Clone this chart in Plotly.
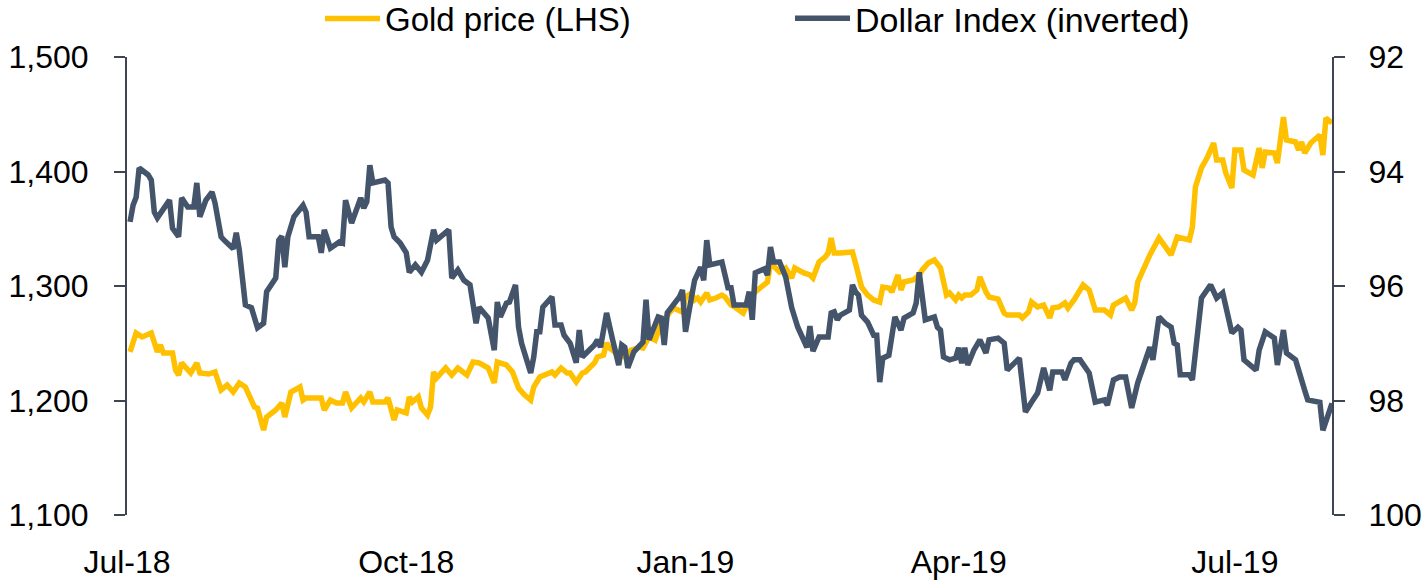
import plotly.graph_objects as go

# ---------------- data ----------------
gold_dates = [
    "2018-07-02","2018-07-03","2018-07-04","2018-07-06","2018-07-09","2018-07-11","2018-07-12","2018-07-13",
    "2018-07-16","2018-07-17","2018-07-18","2018-07-19","2018-07-22","2018-07-24","2018-07-25","2018-07-28",
    "2018-07-30","2018-08-01","2018-08-03","2018-08-05","2018-08-07","2018-08-09","2018-08-12","2018-08-13",
    "2018-08-15","2018-08-16","2018-08-19","2018-08-21","2018-08-22","2018-08-24","2018-08-27","2018-08-28",
    "2018-08-29","2018-09-03","2018-09-04","2018-09-06","2018-09-08","2018-09-10","2018-09-11","2018-09-13",
    "2018-09-16","2018-09-17","2018-09-19","2018-09-20","2018-09-24","2018-09-25","2018-09-27","2018-09-28",
    "2018-10-01","2018-10-02","2018-10-03","2018-10-05","2018-10-06","2018-10-08","2018-10-09","2018-10-10",
    "2018-10-11","2018-10-14","2018-10-16","2018-10-18","2018-10-21","2018-10-23","2018-10-25","2018-10-28",
    "2018-10-30","2018-10-31","2018-11-03","2018-11-05","2018-11-07","2018-11-09","2018-11-11","2018-11-12",
    "2018-11-14","2018-11-18","2018-11-19","2018-11-21","2018-11-23","2018-11-24","2018-11-26","2018-11-28",
    "2018-11-29","2018-12-02","2018-12-03","2018-12-05","2018-12-06","2018-12-07","2018-12-09","2018-12-12",
    "2018-12-14","2018-12-17","2018-12-18","2018-12-20","2018-12-22","2018-12-24","2018-12-27","2018-12-28",
    "2018-12-31","2019-01-01","2019-01-03","2019-01-04","2019-01-05","2019-01-06","2019-01-08","2019-01-09",
    "2019-01-11","2019-01-13","2019-01-14","2019-01-16","2019-01-17","2019-01-18","2019-01-20","2019-01-22",
    "2019-01-24","2019-01-28","2019-01-29","2019-02-01","2019-02-03","2019-02-05","2019-02-06","2019-02-09",
    "2019-02-11","2019-02-12","2019-02-14","2019-02-16","2019-02-17","2019-02-18","2019-02-19","2019-02-21",
    "2019-02-25","2019-02-26","2019-02-28","2019-03-02","2019-03-04","2019-03-06","2019-03-07","2019-03-09",
    "2019-03-10","2019-03-12","2019-03-13","2019-03-14","2019-03-17","2019-03-19","2019-03-20","2019-03-22",
    "2019-03-24","2019-03-26","2019-03-27","2019-03-28","2019-03-29","2019-03-31","2019-04-01","2019-04-02",
    "2019-04-03","2019-04-05","2019-04-07","2019-04-08","2019-04-10","2019-04-11","2019-04-14","2019-04-16",
    "2019-04-17","2019-04-21","2019-04-22","2019-04-24","2019-04-25","2019-04-27","2019-04-29","2019-05-01",
    "2019-05-02","2019-05-04","2019-05-06","2019-05-07","2019-05-09","2019-05-12","2019-05-14","2019-05-15",
    "2019-05-16","2019-05-19","2019-05-21","2019-05-22","2019-05-26","2019-05-28","2019-05-29","2019-05-30",
    "2019-06-01","2019-06-03","2019-06-06","2019-06-10","2019-06-12","2019-06-16","2019-06-17","2019-06-18",
    "2019-06-20","2019-06-22","2019-06-24","2019-06-25","2019-06-27","2019-06-28","2019-06-30","2019-07-01",
    "2019-07-03","2019-07-04","2019-07-07","2019-07-09","2019-07-10","2019-07-11","2019-07-14","2019-07-15",
    "2019-07-17","2019-07-18","2019-07-21","2019-07-22","2019-07-23","2019-07-24","2019-07-26","2019-07-29",
    "2019-07-30","2019-07-31","2019-08-02",
]
gold_price = [
    1242.4,1252.8,1259.0,1255.5,1259.0,1242.4,1248.5,1241.5,
    1241.5,1226.6,1222.3,1232.8,1224.0,1232.8,1224.0,1223.1,
    1224.9,1209.2,1213.5,1207.4,1215.3,1211.8,1194.3,1193.4,
    1174.2,1185.6,1191.7,1197.8,1185.6,1207.4,1211.8,1200.4,
    1202.2,1202.2,1191.7,1200.4,1197.8,1197.8,1207.4,1193.5,
    1202.2,1198.7,1207.4,1198.7,1198.7,1202.2,1183.0,1191.7,
    1189.1,1203.1,1198.7,1203.1,1193.5,1187.3,1194.3,1224.9,
    1219.7,1228.4,1222.3,1228.4,1222.3,1233.6,1232.8,1228.4,
    1215.3,1233.6,1231.0,1224.9,1210.9,1204.8,1200.4,1211.8,
    1220.5,1224.9,1222.3,1228.4,1224.0,1224.0,1216.2,1224.0,
    1224.9,1232.8,1238.0,1239.7,1250.2,1245.9,1241.5,1238.0,
    1244.1,1246.7,1245.9,1255.5,1252.8,1267.7,1279.0,1280.8,
    1277.3,1290.4,1293.9,1287.8,1289.5,1286.0,1293.9,1287.8,
    1289.5,1292.1,1290.4,1283.4,1282.0,1280.0,1276.4,1287.8,
    1294.8,1303.5,1320.1,1312.2,1315.7,1307.0,1315.7,1311.4,
    1309.6,1307.0,1321.0,1325.3,1328.8,1341.9,1328.8,1328.8,
    1329.7,1320.1,1299.1,1292.1,1287.8,1286.0,1299.1,1298.3,
    1294.8,1309.6,1296.5,1303.5,1305.2,1309.6,1314.0,1320.1,
    1322.7,1316.0,1305.0,1292.1,1293.9,1287.8,1292.1,1289.5,
    1292.1,1292.1,1296.5,1307.9,1294.8,1290.4,1288.6,1276.4,
    1274.7,1274.7,1272.1,1277.3,1286.0,1281.7,1283.4,1272.1,
    1280.8,1281.7,1285.2,1280.8,1287.8,1300.9,1296.5,1286.0,
    1279.0,1279.0,1274.7,1283.4,1289.5,1279.0,1285.2,1303.5,
    1315.7,1327.1,1341.9,1327.1,1342.8,1340.2,1351.5,1386.5,
    1403.1,1412.7,1424.9,1410.0,1410.0,1398.7,1385.6,1418.8,
    1418.8,1401.3,1396.9,1420.5,1403.1,1417.0,1416.2,1407.4,
    1447.6,1427.5,1425.8,1418.8,1425.8,1416.2,1424.9,1431.9,
    1414.4,1446.7,1442.4,
]

dxy_dates = [
    "2018-07-02","2018-07-03","2018-07-04","2018-07-05","2018-07-08","2018-07-09","2018-07-10","2018-07-11",
    "2018-07-15","2018-07-16","2018-07-18","2018-07-19","2018-07-21","2018-07-23","2018-07-24","2018-07-25",
    "2018-07-27","2018-07-29","2018-07-30","2018-08-01","2018-08-02","2018-08-05","2018-08-06","2018-08-07",
    "2018-08-09","2018-08-11","2018-08-13","2018-08-15","2018-08-16","2018-08-18","2018-08-19","2018-08-20",
    "2018-08-21","2018-08-22","2018-08-23","2018-08-25","2018-08-28","2018-08-29","2018-08-30","2018-09-02",
    "2018-09-03","2018-09-04","2018-09-06","2018-09-09","2018-09-10","2018-09-11","2018-09-13","2018-09-16",
    "2018-09-17","2018-09-18","2018-09-19","2018-09-20","2018-09-24","2018-09-25","2018-09-26","2018-09-27",
    "2018-09-29","2018-10-01","2018-10-02","2018-10-04","2018-10-06","2018-10-08","2018-10-10","2018-10-11",
    "2018-10-15","2018-10-16","2018-10-18","2018-10-20","2018-10-22","2018-10-24","2018-10-25","2018-10-28",
    "2018-10-30","2018-10-31","2018-11-01","2018-11-03","2018-11-04","2018-11-06","2018-11-07","2018-11-08",
    "2018-11-11","2018-11-12","2018-11-13","2018-11-14","2018-11-15","2018-11-18","2018-11-19","2018-11-21",
    "2018-11-22","2018-11-24","2018-11-26","2018-11-27","2018-11-28","2018-12-02","2018-12-03","2018-12-04",
    "2018-12-06","2018-12-08","2018-12-10","2018-12-11","2018-12-12","2018-12-13","2018-12-15","2018-12-18",
    "2018-12-19","2018-12-20","2018-12-23","2018-12-24","2018-12-25","2018-12-26","2018-12-30","2018-12-31",
    "2019-01-01","2019-01-03","2019-01-04","2019-01-06","2019-01-07","2019-01-08","2019-01-09","2019-01-13",
    "2019-01-15","2019-01-16","2019-01-17","2019-01-21","2019-01-22","2019-01-23","2019-01-24","2019-01-27",
    "2019-01-28","2019-01-29","2019-01-30","2019-02-01","2019-02-03","2019-02-05","2019-02-07","2019-02-10",
    "2019-02-11","2019-02-12","2019-02-14","2019-02-17","2019-02-18","2019-02-19","2019-02-20","2019-02-21",
    "2019-02-24","2019-02-25","2019-02-26","2019-02-27","2019-02-28","2019-03-02","2019-03-04","2019-03-05",
    "2019-03-06","2019-03-07","2019-03-09","2019-03-11","2019-03-13","2019-03-14","2019-03-17","2019-03-18",
    "2019-03-19","2019-03-21","2019-03-24","2019-03-25","2019-03-26","2019-03-27","2019-03-29","2019-03-31",
    "2019-04-01","2019-04-02","2019-04-03","2019-04-04","2019-04-06","2019-04-08","2019-04-10","2019-04-11",
    "2019-04-14","2019-04-16","2019-04-17","2019-04-21","2019-04-23","2019-04-25","2019-04-27","2019-04-29",
    "2019-05-01","2019-05-02","2019-05-05","2019-05-06","2019-05-08","2019-05-09","2019-05-11","2019-05-14",
    "2019-05-16","2019-05-19","2019-05-20","2019-05-22","2019-05-24","2019-05-26","2019-05-28","2019-05-30",
    "2019-05-31","2019-06-03","2019-06-04","2019-06-06","2019-06-08","2019-06-10","2019-06-11","2019-06-12",
    "2019-06-13","2019-06-16","2019-06-17","2019-06-20","2019-06-23","2019-06-25","2019-06-27","2019-06-30",
    "2019-07-02","2019-07-03","2019-07-04","2019-07-07","2019-07-08","2019-07-09","2019-07-11","2019-07-14",
    "2019-07-15","2019-07-17","2019-07-18","2019-07-21","2019-07-23","2019-07-24","2019-07-25","2019-07-29",
    "2019-07-30","2019-08-02",
]
dxy_value = [
    94.88,94.59,94.45,93.94,94.06,94.15,94.71,94.81,
    94.50,94.99,95.14,94.46,94.62,94.62,94.20,94.79,
    94.50,94.36,94.55,95.14,95.20,95.35,95.07,95.37,
    96.33,96.38,96.73,96.65,96.10,95.93,95.86,95.20,
    95.13,95.67,95.14,94.79,94.59,94.71,95.14,95.14,
    95.42,95.02,95.34,95.23,95.25,94.50,94.90,94.46,
    94.64,94.53,93.89,94.20,94.15,94.20,94.97,95.14,
    95.25,95.42,95.76,95.63,95.76,95.55,95.02,95.20,
    95.02,95.86,95.72,95.90,95.98,96.65,96.37,96.56,
    97.12,96.28,96.54,96.30,96.28,95.98,96.72,97.00,
    97.52,97.24,96.80,96.80,96.37,96.19,96.68,96.68,
    96.86,97.00,97.34,96.77,97.24,97.03,96.94,97.07,
    96.47,96.94,97.38,97.03,97.07,97.43,97.15,96.98,
    96.24,96.94,96.54,96.56,97.03,96.47,96.19,96.07,
    96.80,96.19,95.90,95.67,95.90,95.20,95.63,95.58,
    96.03,96.03,96.33,96.33,96.10,96.59,95.77,95.70,
    95.81,95.32,95.58,95.58,95.84,96.38,96.72,97.07,
    96.70,97.14,96.89,96.89,96.47,96.45,96.59,96.51,
    96.42,95.98,96.10,96.16,96.51,96.63,96.86,96.86,
    97.68,97.26,97.21,96.54,96.77,96.56,96.47,96.30,
    95.76,96.59,96.54,96.72,96.77,97.24,97.29,97.26,
    97.08,97.35,97.08,97.38,97.12,96.94,97.17,96.94,
    96.91,97.00,97.47,97.26,98.20,98.03,97.87,97.43,
    97.82,97.50,97.50,97.64,97.35,97.29,97.29,97.52,
    98.03,97.99,98.08,97.64,97.59,97.59,98.13,97.69,
    97.52,97.07,97.29,96.54,96.65,96.72,97.00,97.03,
    97.55,97.55,97.64,96.21,95.98,96.21,96.12,96.82,
    96.72,96.77,97.29,97.41,97.47,97.12,96.80,96.91,
    97.38,96.77,97.17,97.29,97.69,97.82,97.99,98.03,
    98.52,98.05,
]

x_tick_dates = ["2018-07-01", "2018-10-01", "2019-01-01", "2019-04-01", "2019-07-01"]
x_tick_labels = ["Jul-18", "Oct-18", "Jan-19", "Apr-19", "Jul-19"]
gold_ticks = [1100, 1200, 1300, 1400, 1500]
gold_tick_labels = ["1,100", "1,200", "1,300", "1,400", "1,500"]
dxy_ticks = [92, 94, 96, 98, 100]

GOLD = "#FFC000"
NAVY = "#44546A"
AXIS = "#3F4552"
FONT = "Liberation Sans, Arial, sans-serif"

fig = go.Figure()
fig.add_trace(go.Scatter(
    x=gold_dates, y=gold_price, mode="lines", name="Gold price (LHS)",
    line=dict(color=GOLD, width=5.5), yaxis="y", legend="legend",
))
fig.add_trace(go.Scatter(
    x=dxy_dates, y=dxy_value, mode="lines", name="Dollar Index (inverted)",
    line=dict(color=NAVY, width=5.5), yaxis="y2", legend="legend2",
))

fig.update_layout(
    width=1426, height=583,
    margin=dict(l=127, r=94, t=57, b=68, autoexpand=False),
    paper_bgcolor="white", plot_bgcolor="white",
    font=dict(family=FONT, size=32, color="black"),
    xaxis=dict(
        type="date", range=["2018-07-01", "2019-08-02"],
        tickvals=x_tick_dates, ticktext=x_tick_labels,
        showgrid=False, zeroline=False, showline=False, ticks="",
        ticklabelstandoff=25, automargin=False,
    ),
    yaxis=dict(
        range=[1100, 1500], tickvals=gold_ticks, ticktext=gold_tick_labels,
        showgrid=False, zeroline=False, showline=True, linecolor=AXIS, linewidth=2,
        ticks="outside", ticklen=11, tickwidth=2, tickcolor=AXIS,
        ticklabelstandoff=19, automargin=False,
    ),
    yaxis2=dict(
        range=[100, 92], tickvals=dxy_ticks, overlaying="y", side="right",
        showgrid=False, zeroline=False, showline=True, linecolor=AXIS, linewidth=2,
        ticks="outside", ticklen=11, tickwidth=2, tickcolor=AXIS,
        ticklabelstandoff=17, automargin=False,
    ),
    legend=dict(
        orientation="h", xref="container", yref="container",
        x=0.2244, xanchor="left", y=0.968, yanchor="middle",
        font=dict(family=FONT, size=33), itemwidth=55, bgcolor="rgba(0,0,0,0)",
    ),
    legend2=dict(
        orientation="h", xref="container", yref="container",
        x=0.554, xanchor="left", y=0.968, yanchor="middle",
        font=dict(family=FONT, size=34), itemwidth=55, bgcolor="rgba(0,0,0,0)",
    ),
    showlegend=True,
)

fig.write_html(
    "out.html",
    config={"displayModeBar": False},
    post_script="document.body.style.margin='0';document.body.style.padding='0';document.documentElement.style.overflow='hidden';",
)
